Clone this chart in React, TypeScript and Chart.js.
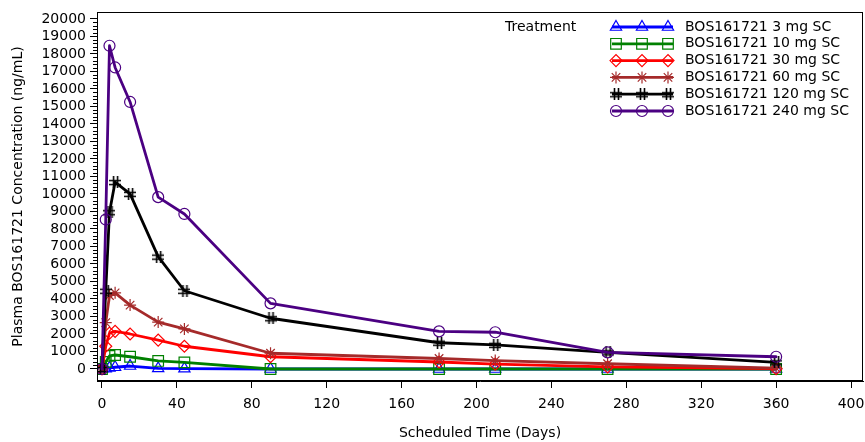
import React, { useEffect, useRef } from "react";
import { Chart, registerables } from "chart.js";
import { drawPoint } from "chart.js/helpers";

Chart.register(...registerables);

// ---- data ----
const days = [0, 2, 4, 7, 15, 30, 44, 90, 180, 210, 270, 360];
const dose3mg = [0, 20, 60, 100, 170, 30, 20, 0, 0, 0, 0, 0];
const dose10mg = [0, 400, 750, 800, 700, 460, 380, 0, 0, 0, 0, 0];
const dose30mg = [0, 1300, 2050, 2150, 2000, 1650, 1300, 700, 400, 280, 120, 20];
const dose60mg = [0, 2650, 4200, 4350, 3650, 2680, 2290, 900, 600, 480, 300, 50];
const dose120mg = [0, 4470, 8960, 10680, 10010, 6420, 4470, 2900, 1500, 1380, 950, 380];
const dose240mg = [0, 8540, 18470, 17230, 15260, 9820, 8860, 3750, 2150, 2100, 950, 700];

const seriesLabels = [
  "BOS161721 3 mg SC",
  "BOS161721 10 mg SC",
  "BOS161721 30 mg SC",
  "BOS161721 60 mg SC",
  "BOS161721 120 mg SC",
  "BOS161721 240 mg SC",
];
const yTickValues = [0, 1000, 2000, 3000, 4000, 5000, 6000, 7000, 8000, 9000, 10000, 11000, 12000, 13000, 14000, 15000, 16000, 17000, 18000, 19000, 20000];
const xTickValues = [0, 40, 80, 120, 160, 200, 240, 280, 320, 360, 400];

const FONT_FAMILY = '"DejaVu Sans", sans-serif';
const FONT_SIZE = 14;

function makeHash(color: string, size: number): HTMLCanvasElement {
  const c = document.createElement("canvas");
  c.width = size;
  c.height = size;
  const g = c.getContext("2d")!;
  g.strokeStyle = color;
  g.lineWidth = 1.6;
  const a = Math.round(size * 0.33) + 0.5;
  const b = Math.round(size * 0.67) + 0.5;
  g.beginPath();
  g.moveTo(a, 0); g.lineTo(a, size);
  g.moveTo(b, 0); g.lineTo(b, size);
  g.moveTo(0, a); g.lineTo(size, a);
  g.moveTo(0, b); g.lineTo(size, b);
  g.stroke();
  return c;
}

const framePlugin = {
  id: "frameAndMinor",
  afterDraw(chart: any) {
    const { ctx, chartArea } = chart;
    const ys = chart.scales.y;
    ctx.save();
    ctx.strokeStyle = "#000";
    ctx.lineWidth = 1;
    ctx.strokeRect(chartArea.left + 0.5, chartArea.top + 0.5, chartArea.right - chartArea.left - 1, chartArea.bottom - chartArea.top - 1);
    ctx.beginPath();
    for (let v = 200; v < 20000; v += 200) {
      if (v % 1000 === 0) continue;
      const py = Math.round(ys.getPixelForValue(v)) + 0.5;
      ctx.moveTo(chartArea.left - 4, py);
      ctx.lineTo(chartArea.left, py);
    }
    ctx.stroke();
    ctx.restore();
  },
};

const legendPlugin = {
  id: "customLegend",
  afterDraw(chart: any) {
    const { ctx, chartArea } = chart;
    ctx.save();
    ctx.font = `${FONT_SIZE}px ${FONT_FAMILY}`;
    ctx.fillStyle = "#000";
    ctx.textBaseline = "middle";
    ctx.textAlign = "left";
    const y0 = chartArea.top + 15;
    const lineX0 = chartArea.right - 251;
    const lineX1 = chartArea.right - 190;
    const textX = chartArea.right - 178;
    ctx.fillText("Treatment", chartArea.right - 358, y0);
    chart.data.datasets.forEach((ds: any, i: number) => {
      const y = y0 + i * 16.8;
      ctx.strokeStyle = ds.borderColor;
      ctx.lineWidth = ds.borderWidth;
      ctx.beginPath();
      ctx.moveTo(lineX0, y);
      ctx.lineTo(lineX1, y);
      ctx.stroke();
      ctx.strokeStyle = ds.pointBorderColor;
      ctx.fillStyle = "rgba(0,0,0,0)";
      ctx.lineWidth = ds.pointBorderWidth;
      [lineX0 + 4, lineX0 + 30, lineX0 + 56].forEach((x) => {
        drawPoint(ctx, { pointStyle: ds.pointStyle, radius: ds.pointRadius, borderWidth: ds.pointBorderWidth, rotation: 0 } as any, x, y);
      });
      ctx.fillStyle = "#000";
      ctx.fillText(ds.label, textX, y);
    });
    ctx.restore();
  },
};

export default function App() {
  const ref = useRef<HTMLCanvasElement | null>(null);

  useEffect(() => {
    document.body.style.margin = "0";
    const canvas = ref.current!;
    const font = { family: FONT_FAMILY, size: FONT_SIZE };
    const series = [dose3mg, dose10mg, dose30mg, dose60mg, dose120mg, dose240mg];
    const colors = ["#0000FF", "#008000", "#FF0000", "#A52A2A", "#000000", "#4B0082"];
    const styles: any[] = ["triangle", "rect", "rectRot", "star", makeHash("#000000", 12), "circle"];
    const radii = [6.5, 7.5, 6, 6, 6, 5.5];

    const datasets = series.map((vals, i) => ({
      label: seriesLabels[i],
      data: days.map((d, j) => ({ x: d, y: vals[j] })),
      borderColor: colors[i],
      borderWidth: 2.8,
      borderJoinStyle: "round",
      borderCapStyle: "round",
      pointStyle: styles[i],
      pointRadius: radii[i],
      pointBorderColor: colors[i],
      pointBackgroundColor: "rgba(0,0,0,0)",
      pointBorderWidth: 1.2,
      tension: 0,
      order: 5 - i,
    }));

    const chart = new Chart(canvas, {
      type: "line",
      data: { datasets },
      options: {
        animation: false,
        responsive: false,
        layout: { autoPadding: false, padding: { top: 12, right: 2, left: 0, bottom: 0 } },
        plugins: { legend: { display: false }, tooltip: { enabled: false } },
        scales: {
          x: {
            type: "linear",
            min: -2.67,
            max: 406.4,
            afterBuildTicks: (s: any) => { s.ticks = xTickValues.map((v) => ({ value: v })); },
            afterFit: (s: any) => { s.height = 61; s.paddingLeft = 0; s.paddingRight = 0; },
            grid: { drawOnChartArea: false, drawTicks: true, tickLength: 7, color: "#000" },
            border: { display: true, color: "#000" },
            ticks: { color: "#000", font, padding: 8, maxRotation: 0, autoSkip: false, callback: (v: any) => String(v) },
            title: { display: true, text: "Scheduled Time (Days)", color: "#000", font, padding: { top: 0, bottom: 0 } },
          },
          y: {
            type: "linear",
            min: -686,
            max: 20400,
            afterBuildTicks: (s: any) => { s.ticks = yTickValues.map((v) => ({ value: v })); },
            afterFit: (s: any) => { s.width = 97; s.paddingTop = 0; s.paddingBottom = 0; },
            grid: { drawOnChartArea: false, drawTicks: true, tickLength: 7, color: "#000" },
            border: { display: true, color: "#000" },
            ticks: { color: "#000", font, padding: 4, autoSkip: false, callback: (v: any) => String(v) },
            title: { display: true, text: "Plasma BOS161721 Concentration (ng/mL)", color: "#000", font, padding: { top: 10, bottom: 0 } },
          },
        },
      } as any,
      plugins: [framePlugin, legendPlugin],
    });
    return () => chart.destroy();
  }, []);

  return (
    <div style={{ width: 865, height: 442 }}>
      <canvas ref={ref} width={865} height={442} />
    </div>
  );
}
